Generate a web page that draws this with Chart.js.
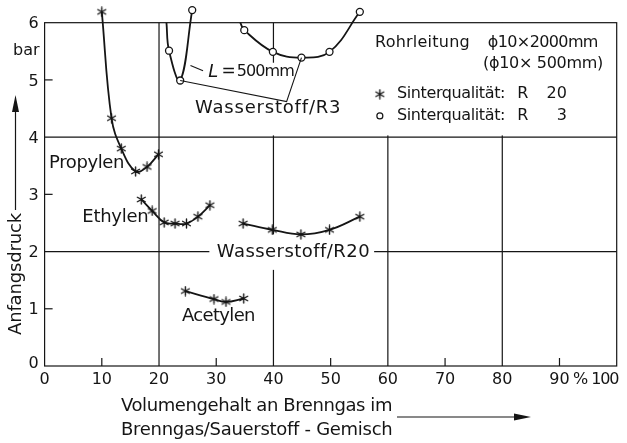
<!DOCTYPE html>
<html>
<head>
<meta charset="utf-8">
<script src="https://cdn.jsdelivr.net/npm/chart.js@4.4.1/dist/chart.umd.min.js"></script>
<style>
  html, body { margin: 0; padding: 0; background: #fff; }
</style>
</head>
<body>
<canvas id="chart" width="627" height="443"></canvas>
<script>
// ---------------- data (Anfangsdruck in bar over % Brenngas) ----------------
const propylenX = [10, 11.7, 13.4, 15.9, 17.9, 19.9];
const propylenY = [6.19, 4.33, 3.80, 3.40, 3.48, 3.70];

const ethylenX = [16.9, 18.8, 20.9, 22.8, 24.8, 26.8, 28.9];
const ethylenY = [2.91, 2.71, 2.51, 2.49, 2.49, 2.61, 2.81];

const acetylenX = [24.6, 29.6, 31.7, 34.8];
const acetylenY = [1.31, 1.17, 1.12, 1.18];

const h2R20X = [34.7, 39.8, 44.8, 49.8, 55.1];
const h2R20Y = [2.49, 2.38, 2.30, 2.38, 2.61];

// Wasserstoff/R3, short pipe (L = 500 mm); first entry is where the curve meets the frame
const h2R3ShortX = [21.3, 21.75, 23.7, 25.8];
const h2R3ShortY = [6.0, 5.51, 4.99, 6.22];

// Wasserstoff/R3, long pipe (2000 mm); first entry is where the curve meets the frame
const h2R3LongX = [34.2, 34.9, 39.9, 44.9, 49.8, 55.1];
const h2R3LongY = [6.0, 5.87, 5.49, 5.39, 5.49, 6.19];

// bracket joining the two R3 minima, plus the pointer to the "L = 500 mm" note
const bracketX = [23.7, 42.3, 44.9];
const bracketY = [4.99, 4.62, 5.39];
const pointerX = [25.5, 27.7];
const pointerY = [5.25, 5.16];

// axes
const xTicks = [0, 10, 20, 30, 40, 50, 60, 70, 80, 90, 100];
const yTicks = [0, 1, 2, 3, 4, 5, 6];
const xGrid = [20, 40, 60, 80];
const yGrid = [2, 4];
const xMinor = [10, 30, 50, 70, 90];
const yMinor = [1, 3, 5];

const pts = (xs, ys) => xs.map((v, i) => ({ x: v, y: ys[i] }));

// ---------------- drawing helpers ----------------
const INK = '#151515';
const FAMILY = '"DejaVu Sans", sans-serif';

function asteriskImage(size) {
  const c = document.createElement('canvas');
  c.width = c.height = size;
  const g = c.getContext('2d');
  g.strokeStyle = INK;
  g.lineWidth = 1.4;
  g.lineCap = 'round';
  const m = size / 2, r = size / 2 - 1;
  for (let k = 0; k < 3; k++) {
    const a = Math.PI / 2 + k * Math.PI / 3;
    g.beginPath();
    g.moveTo(m + r * Math.cos(a), m + r * Math.sin(a));
    g.lineTo(m - r * Math.cos(a), m - r * Math.sin(a));
    g.stroke();
  }
  return c;
}
const STAR = asteriskImage(11);

function text(ctx, str, x, y, size, align, width, style) {
  ctx.font = (style ? style + ' ' : '') + size + 'px ' + FAMILY;
  ctx.textAlign = align || 'left';
  ctx.textBaseline = 'middle';
  ctx.letterSpacing = '0px';
  if (width) {
    const w = ctx.measureText(str).width;
    ctx.letterSpacing = ((width - w) / str.length).toFixed(2) + 'px';
  }
  ctx.fillText(str, x, y);
  ctx.letterSpacing = '0px';
}

function seg(ctx, x1, y1, x2, y2) {
  ctx.beginPath();
  ctx.moveTo(x1, y1);
  ctx.lineTo(x2, y2);
  ctx.stroke();
}

function arrowHead(ctx, tipX, tipY, dx, dy, len, half) {
  // dx/dy: unit direction the arrow points to
  const bx = tipX - dx * len, by = tipY - dy * len;
  ctx.beginPath();
  ctx.moveTo(tipX, tipY);
  ctx.lineTo(bx - dy * half, by + dx * half);
  ctx.lineTo(bx + dy * half, by - dx * half);
  ctx.closePath();
  ctx.fill();
}

// white gaps in the grid behind labels (in axis units)
const gaps = [
  { x0: 55.2, x1: 100, y0: 4.03, y1: 6 },     // legend block
  { x0: 27, x1: 52, y0: 4.03, y1: 5.3 },      // Wasserstoff/R3
  { x0: 28.8, x1: 57.6, y0: 1.68, y1: 2.3 }   // Wasserstoff/R20
];

const paper = {
  id: 'paper',
  beforeDatasetsDraw(chart) {
    const { ctx, scales: { x, y } } = chart;
    const X = v => x.getPixelForValue(v);
    const Y = v => y.getPixelForValue(v);
    ctx.save();
    ctx.strokeStyle = INK;
    ctx.fillStyle = INK;
    ctx.lineWidth = 1.2;

    // grid
    xGrid.forEach(v => seg(ctx, X(v), Y(0), X(v), Y(6)));
    yGrid.forEach(v => seg(ctx, X(0), Y(v), X(100), Y(v)));

    ctx.fillStyle = '#fff';
    gaps.forEach(g => ctx.fillRect(X(g.x0), Y(g.y1), X(g.x1) - X(g.x0), Y(g.y0) - Y(g.y1)));
    ctx.fillStyle = INK;

    // frame and inward minor ticks
    ctx.strokeRect(X(0), Y(6), X(100) - X(0), Y(0) - Y(6));
    xMinor.forEach(v => seg(ctx, X(v), Y(0), X(v), Y(0) - 8));
    yMinor.forEach(v => seg(ctx, X(0), Y(v), X(0) + 8, Y(v)));

    // tick labels
    yTicks.forEach(v => text(ctx, String(v), X(0) - 6, Y(v) + (v === 0 ? -2 : 1.5), 16, 'right'));
    text(ctx, 'bar', X(0) - 5, Y(6) + 28, 16, 'right');
    xTicks.forEach(v => {
      if (v === 100) text(ctx, '100', X(v) + 1.5, Y(0) + 14, 16, 'right', 27);
      else text(ctx, String(v), X(v), Y(0) + 14, 16, 'center');
    });
    text(ctx, '%', X(90) + 21, Y(0) + 14, 16, 'center');

    // axis titles with arrows
    ctx.save();
    ctx.translate(16, 274);
    ctx.rotate(-Math.PI / 2);
    text(ctx, 'Anfangsdruck', 0, 0, 18, 'center', 122);
    ctx.restore();
    seg(ctx, 15.5, 210, 15.5, 110);
    arrowHead(ctx, 15.5, 95, 0, -1, 17, 3.5);

    text(ctx, 'Volumengehalt an Brenngas im', 121, 406.5, 18, 'left', 271);
    text(ctx, 'Brenngas/Sauerstoff - Gemisch', 121, 430, 18, 'left', 271);
    seg(ctx, 397, 417, 516, 417);
    arrowHead(ctx, 531, 417, 1, 0, 17, 3.5);

    // curve names
    text(ctx, 'Propylen', X(0.77), Y(3.55), 18, 'left', 75);
    text(ctx, 'Ethylen', X(18.13), Y(2.59), 18, 'right', 66);
    text(ctx, 'Acetylen', X(24.0), Y(0.86), 18, 'left', 73);
    text(ctx, 'Wasserstoff/R20', X(30.1), Y(1.99), 18, 'left', 153);
    text(ctx, 'Wasserstoff/R3', X(26.3), Y(4.51), 18, 'left', 146);
    text(ctx, 'L', X(28.6), Y(5.14), 18, 'left', 0, 'italic');
    text(ctx, '=', X(30.9), Y(5.14), 17, 'left');
    text(ctx, '500mm', X(33.6), Y(5.14), 16, 'left', 57);

    // legend block
    text(ctx, 'Rohrleitung', X(57.75), Y(5.65), 16, 'left', 95);
    text(ctx, '\u03D510\u00D72000mm', X(96.7), Y(5.65), 16, 'right', 110);
    text(ctx, '(\u03D510\u00D7 500mm)', X(97.6), Y(5.28), 16, 'right', 120);
    ctx.drawImage(STAR, X(58.6) - 5.5, Y(4.75) - 5.5);
    text(ctx, 'Sinterqualit\u00E4t:', X(61.6), Y(4.75), 16, 'left', 108);
    text(ctx, 'R', X(82.6), Y(4.75), 16, 'left');
    text(ctx, '20', X(91.3), Y(4.75), 16, 'right');
    ctx.lineWidth = 1.2;
    ctx.beginPath();
    ctx.arc(X(58.6), Y(4.37), 3, 0, Math.PI * 2);
    ctx.stroke();
    text(ctx, 'Sinterqualit\u00E4t:', X(61.6), Y(4.37), 16, 'left', 108);
    text(ctx, 'R', X(82.6), Y(4.37), 16, 'left');
    text(ctx, '3', X(91.3), Y(4.37), 16, 'right');

    ctx.restore();
  }
};

// ---------------- chart ----------------
const starSeries = (xs, ys) => ({
  data: pts(xs, ys),
  showLine: true,
  borderColor: INK,
  borderWidth: 1.8,
  tension: 0.4,
  pointStyle: STAR,
  pointRadius: 4,
  clip: false
});

const ringSeries = (xs, ys) => ({
  data: pts(xs, ys),
  showLine: true,
  borderColor: INK,
  borderWidth: 1.8,
  tension: 0.4,
  pointStyle: 'circle',
  pointRadius: xs.map((v, i) => (i === 0 ? 0 : 3.5)),
  pointBackgroundColor: '#fff',
  pointBorderColor: INK,
  pointBorderWidth: 1.3,
  clip: false
});

const leader = (xs, ys) => ({
  data: pts(xs, ys),
  showLine: true,
  borderColor: INK,
  borderWidth: 1.1,
  tension: 0,
  pointRadius: 0,
  clip: false
});

new Chart(document.getElementById('chart'), {
  type: 'scatter',
  data: {
    datasets: [
      leader(bracketX, bracketY),
      leader(pointerX, pointerY),
      starSeries(propylenX, propylenY),
      starSeries(ethylenX, ethylenY),
      starSeries(acetylenX, acetylenY),
      starSeries(h2R20X, h2R20Y),
      ringSeries(h2R3ShortX, h2R3ShortY),
      ringSeries(h2R3LongX, h2R3LongY)
    ]
  },
  options: {
    responsive: false,
    animation: false,
    events: [],
    layout: {
      autoPadding: false,
      padding: { left: 44.6, right: 10.3, top: 2.66, bottom: 77 }
    },
    scales: {
      x: { type: 'linear', min: 0, max: 100, display: false },
      y: { type: 'linear', min: 0, max: 6.35, display: false }
    },
    plugins: {
      legend: { display: false },
      tooltip: { enabled: false }
    }
  },
  plugins: [paper]
});
</script>
</body>
</html>
